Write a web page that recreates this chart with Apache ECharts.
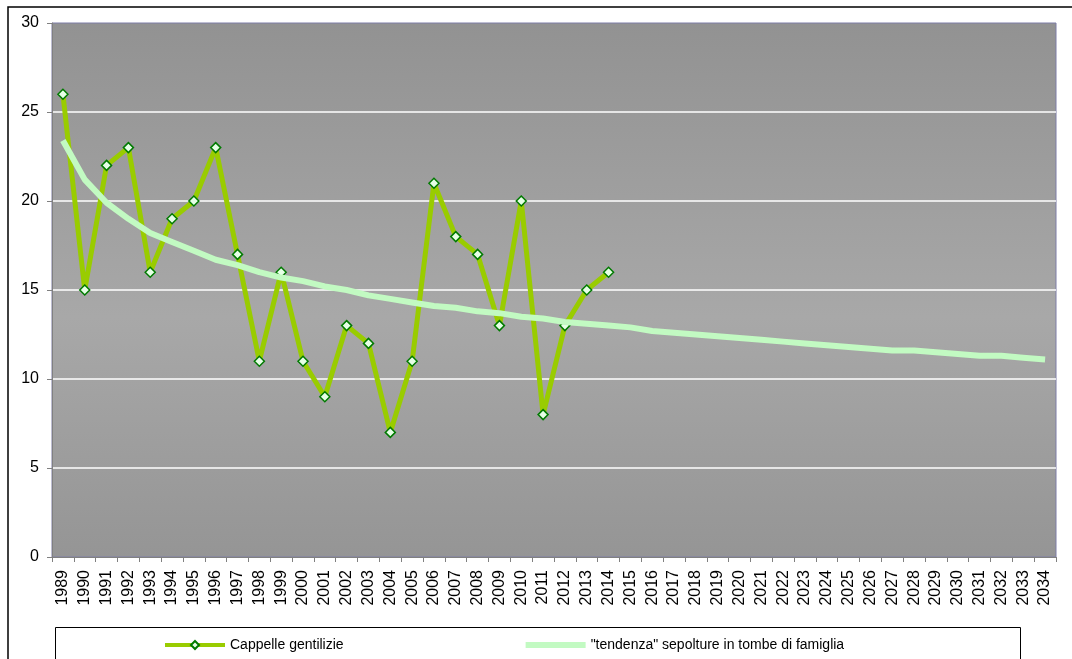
<!DOCTYPE html>
<html>
<head>
<meta charset="utf-8">
<script src="https://cdn.jsdelivr.net/npm/echarts@6/dist/echarts.min.js"></script>
<style>
  html, body { margin: 0; padding: 0; background: #fff; }
  #chart { width: 1072px; height: 659px; }
</style>
</head>
<body>
<div id="chart"></div>
<script>
// anni sull'asse x
const years = [];
for (let y = 1989; y <= 2034; y++) years.push(String(y));

// valori
const cappelle = [26, 15, 22, 23, 16, 19, 20, 23, 17, 11, 16, 11, 9, 13, 12, 7, 11, 21, 18, 17, 13, 20, 8, 13, 15, 16];

const tendenza = [23.4, 21.2, 19.9, 19.0, 18.2, 17.7, 17.2, 16.7, 16.4, 16.0,
  15.7, 15.5, 15.2, 15.0, 14.7, 14.5, 14.3, 14.1, 14.0, 13.8,
  13.7, 13.5, 13.4, 13.2, 13.1, 13.0, 12.9, 12.7, 12.6, 12.5,
  12.4, 12.3, 12.2, 12.1, 12.0, 11.9, 11.8, 11.7, 11.6, 11.6,
  11.5, 11.4, 11.3, 11.3, 11.2, 11.1];

const yTicks = [0, 5, 10, 15, 20, 25, 30];

const font = '"Liberation Sans", Arial, sans-serif';
const chart = echarts.init(document.getElementById('chart'));

const option = {
  backgroundColor: '#fff',
  animation: false,
  textStyle: { fontFamily: font },
  grid: {
    left: 52, top: 23, right: 16, bottom: 102,
    show: true,
    borderColor: '#7d7da6',
    borderWidth: 1,
    backgroundColor: new echarts.graphic.LinearGradient(0, 0, 0, 1, [
      { offset: 0, color: '#929292' },
      { offset: 0.55, color: '#a8a8a8' },
      { offset: 1, color: '#959595' }
    ])
  },
  graphic: [
    { type: 'rect', shape: { x: 8, y: 7, width: 1080, height: 700 },
      style: { fill: 'none', stroke: '#000', lineWidth: 1.5 }, silent: true, z: -1 },
    { type: 'rect', shape: { x: 55.5, y: 627.5, width: 965, height: 60 },
      style: { fill: 'none', stroke: '#000', lineWidth: 1 }, silent: true }
  ],
  legend: {
    left: 158, top: 633,
    itemGap: 179,
    itemWidth: 60, itemHeight: 10,
    textStyle: { fontSize: 14, color: '#000', fontFamily: font },
    data: [
      { name: 'Cappelle gentilizie', lineStyle: { width: 4 } },
      { name: '"tendenza" sepolture in tombe di famiglia',
        lineStyle: { width: 6 },
        itemStyle: { color: 'rgba(0,0,0,0)', borderWidth: 0 } }
    ]
  },
  xAxis: {
    type: 'category',
    boundaryGap: true,
    data: years,
    axisLine: { lineStyle: { color: '#808080' } },
    axisTick: { show: true, alignWithLabel: false, length: 5, lineStyle: { color: '#808080' } },
    axisLabel: { interval: 0, rotate: 90, fontSize: 16, color: '#000', margin: 13, fontFamily: font }
  },
  yAxis: {
    type: 'value',
    min: yTicks[0], max: yTicks[yTicks.length - 1], interval: 5,
    axisLine: { show: true, lineStyle: { color: '#808080' } },
    axisTick: { show: true, length: 5, lineStyle: { color: '#808080' } },
    axisLabel: { fontSize: 16, color: '#000', margin: 13, fontFamily: font },
    splitLine: { show: true, showMaxLine: false, showMinLine: false, lineStyle: { color: '#ffffff', width: 1.5 } }
  },
  series: [
    {
      name: 'Cappelle gentilizie',
      type: 'line',
      data: cappelle,
      symbol: 'diamond',
      symbolSize: 10,
      lineStyle: { color: '#99cc00', width: 5 },
      itemStyle: { color: '#e6ffe6', borderColor: '#007a00', borderWidth: 1.5 },
      z: 3
    },
    {
      name: '"tendenza" sepolture in tombe di famiglia',
      type: 'line',
      data: tendenza,
      symbol: 'none',
      lineStyle: { color: '#c2fac2', width: 6 },
      itemStyle: { color: '#c2fac2' },
      z: 4
    }
  ]
};
chart.setOption(option);
</script>
</body>
</html>
